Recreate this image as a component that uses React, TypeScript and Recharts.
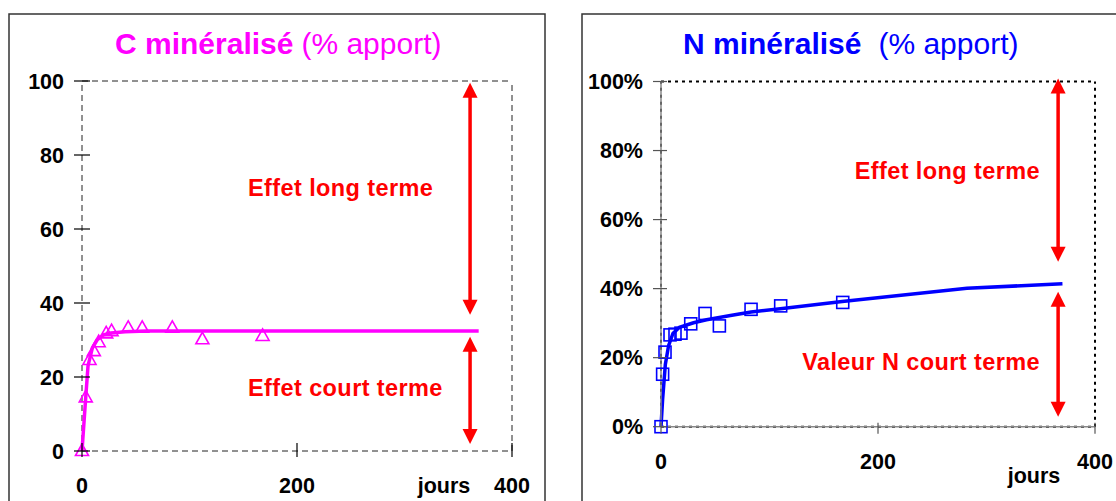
import React from 'react';
import { ComposedChart, Line, Scatter, XAxis, YAxis, ReferenceLine } from 'recharts';

const FONT = '"Liberation Sans", Arial, Helvetica, sans-serif';

// ---- C minéralisé (left) ----
const cObsDays = [0, 3.5, 7, 11, 15.5, 22.5, 27.5, 43, 56, 84, 112, 168];
const cObsValues = [0, 14.5, 24.6, 27, 29.4, 31.8, 32.4, 33.3, 33.3, 33.3, 30.2, 31.1];
const cFitDays = [0, 3.4, 5.6, 9.6, 14, 20, 27, 40, 60, 369];
const cFitValues = [0, 14.2, 23, 27.8, 30, 31.4, 31.9, 32.2, 32.4, 32.4];
const cYTicks = [0, 20, 40, 60, 80, 100];
const cArrowDay = 361;
const cLongArrow = [99.5, 36.8];
const cShortArrow = [30.9, 1.9];

// ---- N minéralisé (right) ----
const nObsDays = [0, 1.5, 3.7, 8.3, 12.9, 18.4, 27.4, 40.6, 53.8, 83, 110.3, 167.5];
const nObsValues = [0, 15.2, 21.6, 26.6, 26.8, 27.1, 29.8, 32.8, 29.2, 34, 35, 36];
const nFitDays = [0, 1.5, 4, 7, 11, 17, 30, 42, 64, 83, 110, 167, 282, 370];
const nFitValues = [0, 8, 18, 23.5, 27, 28.8, 30.1, 31, 32.2, 33.2, 34.2, 36.3, 40.1, 41.4];
const nYTicks = [0, 20, 40, 60, 80, 100];
const nArrowDay = 366;
const nLongArrow = [100.9, 47.8];
const nShortArrow = [39.1, 2.9];

const xTicks = [0, 200, 400];

const toPts = (days: number[], vals: number[]) => days.map((d, i) => ({ d, v: vals[i] }));

const cObs = toPts(cObsDays, cObsValues);
const cFit = toPts(cFitDays, cFitValues);
const nObs = toPts(nObsDays, nObsValues);
const nFit = toPts(nFitDays, nFitValues);

const TICK_FS = 21.5;

const makeYTick = (fmt: (v: number) => string, outL: number, inL: number, color: string) => (props: any) => {
  const { x, y, payload } = props;
  return (
    <g>
      <line x1={x - outL} x2={x + inL} y1={y} y2={y} stroke={color} strokeWidth={1.2} />
      <text x={x - 18} y={y + 0.358 * TICK_FS} textAnchor="end" fontFamily={FONT} fontWeight="bold" fontSize={TICK_FS} fill="#000">
        {fmt(payload.value)}
      </text>
    </g>
  );
};

const makeXTick = (upL: number, downL: number, labelDy: number, color: string) => (props: any) => {
  const { x, y, payload } = props;
  return (
    <g>
      <line x1={x} x2={x} y1={y - upL} y2={y + downL} stroke={color} strokeWidth={1.2} />
      <text x={x} y={y + labelDy + 0.358 * TICK_FS} textAnchor="middle" fontFamily={FONT} fontWeight="bold" fontSize={TICK_FS} fill="#000">
        {payload.value}
      </text>
    </g>
  );
};

const DoubleArrow = (props: any) => {
  const { x1, y1, x2, y2 } = props;
  const x = x1;
  const top = Math.min(y1, y2);
  const bot = Math.max(y1, y2);
  const hw = 7.5;
  const hh = 15;
  return (
    <g>
      <line x1={x} x2={x} y1={top + hh - 1} y2={bot - hh + 1} stroke="#FF0000" strokeWidth={3.5} />
      <polygon points={`${x},${top} ${x - hw},${top + hh} ${x + hw},${top + hh}`} fill="#FF0000" />
      <polygon points={`${x},${bot} ${x - hw},${bot - hh} ${x + hw},${bot - hh}`} fill="#FF0000" />
    </g>
  );
};

const Triangle = (props: any) => {
  const { cx, cy } = props;
  if (cx == null || cy == null) return <g />;
  return (
    <polygon
      points={`${cx},${cy - 7} ${cx - 6.5},${cy + 4.5} ${cx + 6.5},${cy + 4.5}`}
      fill="none"
      stroke="#FF00FF"
      strokeWidth={1.6}
    />
  );
};

const Square = (props: any) => {
  const { cx, cy } = props;
  if (cx == null || cy == null) return <g />;
  return <rect x={cx - 6} y={cy - 6} width={12} height={12} fill="none" stroke="#0000FF" strokeWidth={1.6} />;
};

export default function App() {
  return (
    <div style={{ position: 'absolute', left: 0, top: 0, width: 1116, height: 501, background: '#fff', overflow: 'hidden' }}>
      {/* Left chart */}
      <div style={{ position: 'absolute', left: 0, top: 0, width: 560, height: 501 }}>
        <ComposedChart width={560} height={501} margin={{ top: 81, right: 48, bottom: 20, left: 22 }}>
          <XAxis
            type="number"
            dataKey="d"
            domain={[0, 400]}
            ticks={xTicks}
            interval={0}
            axisLine={false}
            tickLine={false}
            tickSize={0}
            tickMargin={0}
            height={30}
            tick={makeXTick(8, 6, 34, '#000')}
          />
          <YAxis
            type="number"
            dataKey="v"
            domain={[0, 100]}
            ticks={cYTicks}
            interval={0}
            axisLine={false}
            tickLine={false}
            tickSize={0}
            tickMargin={0}
            width={60}
            tick={makeYTick((v) => String(v), 8, 8, '#000')}
          />
          <ReferenceLine y={100} stroke="#222" strokeWidth={1} strokeDasharray="6 4" />
          <ReferenceLine y={0} stroke="#222" strokeWidth={1} strokeDasharray="6 4" />
          <ReferenceLine x={0} stroke="#222" strokeWidth={1} strokeDasharray="6 4" />
          <ReferenceLine x={400} stroke="#222" strokeWidth={1} strokeDasharray="6 4" />
          <ReferenceLine
            segment={[{ x: cArrowDay, y: cLongArrow[0] }, { x: cArrowDay, y: cLongArrow[1] }]}
            ifOverflow="visible"
            shape={DoubleArrow}
          />
          <ReferenceLine
            segment={[{ x: cArrowDay, y: cShortArrow[0] }, { x: cArrowDay, y: cShortArrow[1] }]}
            ifOverflow="visible"
            shape={DoubleArrow}
          />
          <Scatter data={cObs} dataKey="v" shape={Triangle} isAnimationActive={false} />
          <Line data={cFit} dataKey="v" type="linear" stroke="#FF00FF" strokeWidth={3.5} dot={false} activeDot={false} isAnimationActive={false} />
        </ComposedChart>
      </div>

      {/* Right chart */}
      <div style={{ position: 'absolute', left: 560, top: 0, width: 556, height: 501 }}>
        <ComposedChart width={556} height={501} margin={{ top: 81.5, right: 21, bottom: 44.3, left: 41 }}>
          <XAxis
            type="number"
            dataKey="d"
            domain={[0, 400]}
            ticks={xTicks}
            interval={0}
            axisLine={{ stroke: '#888', strokeWidth: 1.5 }}
            tickLine={false}
            tickSize={0}
            tickMargin={0}
            height={30}
            tick={makeXTick(4, 7, 35, '#555')}
          />
          <YAxis
            type="number"
            dataKey="v"
            domain={[0, 100]}
            ticks={nYTicks}
            interval={0}
            axisLine={{ stroke: '#888', strokeWidth: 1.5 }}
            tickLine={false}
            tickSize={0}
            tickMargin={0}
            width={60}
            tick={makeYTick((v) => `${v}%`, 8, 6, '#555')}
          />
          <ReferenceLine y={100} stroke="#000" strokeWidth={2} strokeDasharray="3 4" />
          <ReferenceLine y={0} stroke="#000" strokeWidth={2} strokeDasharray="3 4" />
          <ReferenceLine x={0} stroke="#000" strokeWidth={2} strokeDasharray="3 4" />
          <ReferenceLine x={400} stroke="#000" strokeWidth={2} strokeDasharray="3 4" />
          <ReferenceLine
            segment={[{ x: nArrowDay, y: nLongArrow[0] }, { x: nArrowDay, y: nLongArrow[1] }]}
            ifOverflow="visible"
            shape={DoubleArrow}
          />
          <ReferenceLine
            segment={[{ x: nArrowDay, y: nShortArrow[0] }, { x: nArrowDay, y: nShortArrow[1] }]}
            ifOverflow="visible"
            shape={DoubleArrow}
          />
          <Scatter data={nObs} dataKey="v" shape={Square} isAnimationActive={false} />
          <Line data={nFit} dataKey="v" type="linear" stroke="#0000FF" strokeWidth={3.5} dot={false} activeDot={false} isAnimationActive={false} />
        </ComposedChart>
      </div>

      {/* Frames, titles and annotations */}
      <svg width={1116} height={501} style={{ position: 'absolute', left: 0, top: 0, pointerEvents: 'none' }}>
        <rect x={9} y={14} width={536} height={600} fill="none" stroke="#333" strokeWidth={1.5} />
        <rect x={582} y={14} width={600} height={600} fill="none" stroke="#333" strokeWidth={1.5} />

        <text x={115} y={53.5} fontFamily={FONT} fontSize={30} fill="#FF00FF">
          <tspan fontWeight="bold">C minéralisé</tspan>
          <tspan dx={8}>(% apport)</tspan>
        </text>
        <text x={683} y={53.5} fontFamily={FONT} fontSize={30} fill="#0000FF">
          <tspan fontWeight="bold">N minéralisé</tspan>
          <tspan dx={17}>(% apport)</tspan>
        </text>

        <text x={444} y={492.7} textAnchor="middle" fontFamily={FONT} fontWeight="bold" fontSize={TICK_FS} fill="#000">jours</text>
        <text x={1034} y={483} textAnchor="middle" fontFamily={FONT} fontWeight="bold" fontSize={TICK_FS} fill="#000">jours</text>

        <text x={248} y={196} fontFamily={FONT} fontWeight="bold" fontSize={23.5} letterSpacing={0.4} fill="#FF0000">Effet long terme</text>
        <text x={248} y={396} fontFamily={FONT} fontWeight="bold" fontSize={23.5} letterSpacing={0.4} fill="#FF0000">Effet court terme</text>
        <text x={1040} y={179} textAnchor="end" fontFamily={FONT} fontWeight="bold" fontSize={23.5} letterSpacing={0.4} fill="#FF0000">Effet long terme</text>
        <text x={1040} y={370} textAnchor="end" fontFamily={FONT} fontWeight="bold" fontSize={23.5} letterSpacing={0.4} fill="#FF0000">Valeur N court terme</text>
      </svg>
    </div>
  );
}
